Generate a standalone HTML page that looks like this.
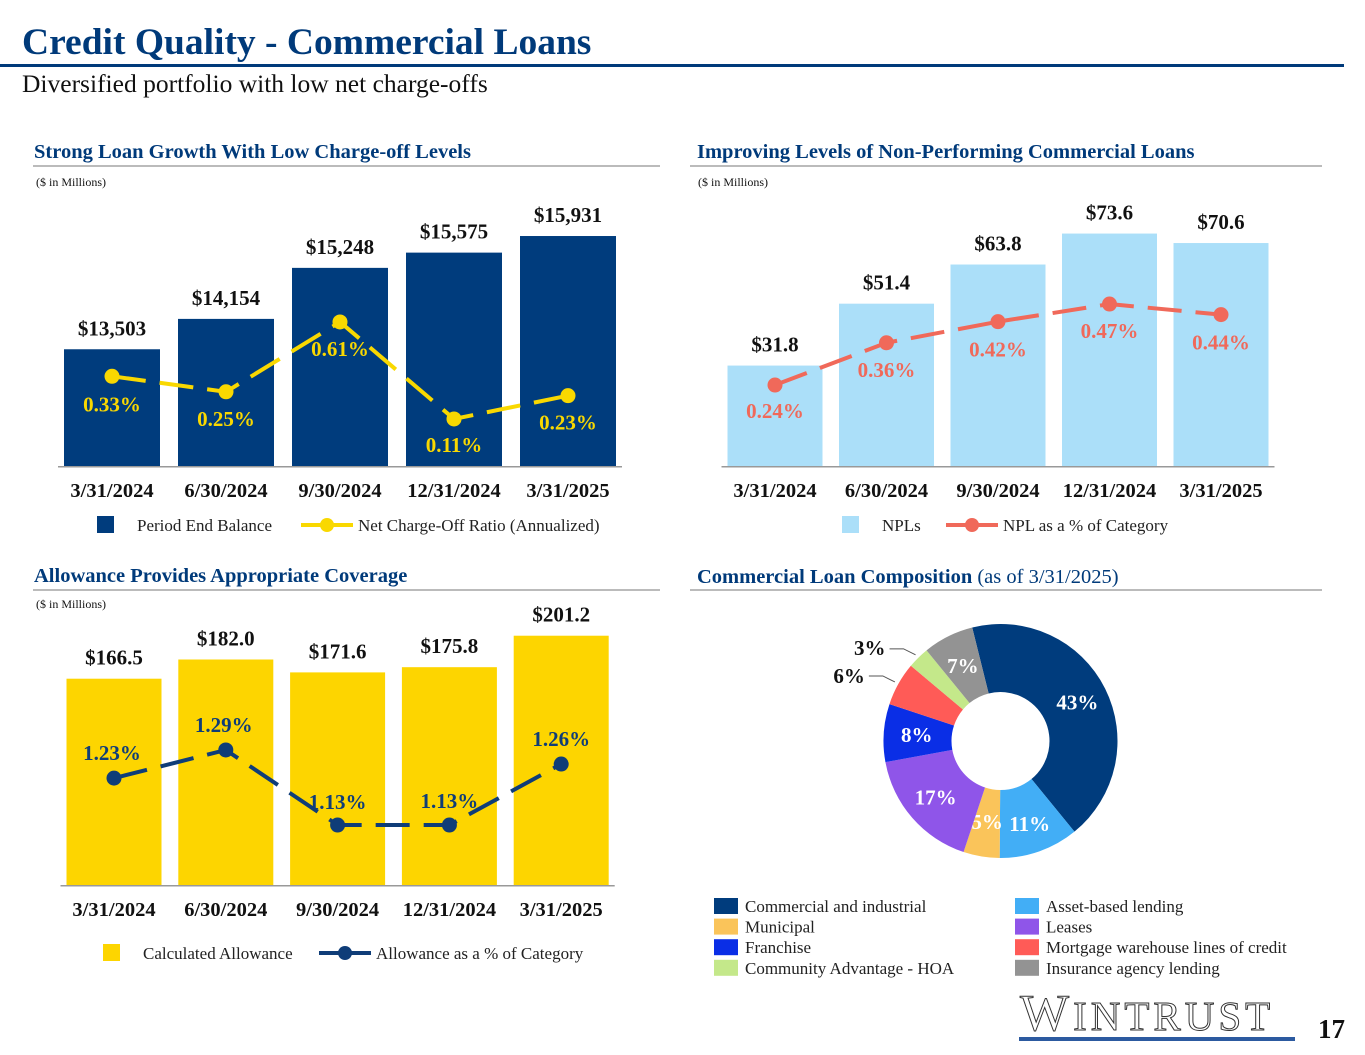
<!DOCTYPE html>
<html><head><meta charset="utf-8"><style>
body{margin:0;width:1365px;height:1055px;background:#fff;overflow:hidden;font-family:"Liberation Serif",serif;}
svg{position:absolute;left:0;top:0}
</style></head><body>
<svg id="s" width="1365" height="1055" xmlns="http://www.w3.org/2000/svg" font-family="Liberation Serif, serif">
<text x="22" y="54" font-size="37.5" font-weight="bold" fill="#003a7a">Credit Quality - Commercial Loans</text>
<rect x="0" y="64" width="1344" height="3" fill="#003a7a"/>
<text x="22" y="92" font-size="25.5" fill="#111">Diversified portfolio with low net charge-offs</text>

<text x="34" y="158" font-size="20.5" font-weight="bold" fill="#003a7a">Strong Loan Growth With Low Charge-off Levels</text>
<rect x="33" y="165" width="627" height="2" fill="#bbb"/>
<text x="36" y="186" font-size="12" fill="#111">($ in Millions)</text>

<text x="697" y="158" font-size="20.5" font-weight="bold" fill="#003a7a">Improving Levels of Non-Performing Commercial Loans</text>
<rect x="690" y="165" width="632" height="2" fill="#bbb"/>
<text x="698" y="186" font-size="12" fill="#111">($ in Millions)</text>

<text x="34" y="582" font-size="20.5" font-weight="bold" fill="#003a7a">Allowance Provides Appropriate Coverage</text>
<rect x="33" y="589" width="627" height="2" fill="#bbb"/>
<text x="36" y="608" font-size="12" fill="#111">($ in Millions)</text>

<text x="697" y="583" font-size="20.5" fill="#003a7a"><tspan font-weight="bold">Commercial Loan Composition</tspan> (as of 3/31/2025)</text>
<rect x="690" y="589" width="632" height="2" fill="#bbb"/>

<g id="c1"></g><g id="c2"></g><g id="c3"></g><g id="c4"></g>

<text x="1020" y="1030" font-size="52" fill="#fff" stroke="#333" stroke-width="1" letter-spacing="4">W<tspan font-size="41">INTRUST</tspan></text>
<rect x="1019" y="1037" width="276" height="4" fill="#2c5aa0"/>
<text x="1318" y="1038" font-size="27" font-weight="bold" fill="#111">17</text>
</svg>
<script>
const NS="http://www.w3.org/2000/svg";
function mk(p,t,a){const e=document.createElementNS(NS,t);for(const k in a)e.setAttribute(k,a[k]);p.appendChild(e);return e;}
function txt(p,x,y,s,o){const e=mk(p,'text',Object.assign({x:x,y:y,'text-anchor':'middle','font-size':21,'font-weight':'bold'},o||{}));e.textContent=s;return e;}

const dates=["3/31/2024","6/30/2024","9/30/2024","12/31/2024","3/31/2025"];
const loanBal=[13503,14154,15248,15575,15931];
const loanBalLabels=["$13,503","$14,154","$15,248","$15,575","$15,931"];
const nco=[0.33,0.25,0.61,0.11,0.23];
const npl=[31.8,51.4,63.8,73.6,70.6];
const nplPct=[0.24,0.36,0.42,0.47,0.44];
const allow=[166.5,182.0,171.6,175.8,201.2];
const allowPct=[1.23,1.29,1.13,1.13,1.26];
const compCats=["Commercial and industrial","Asset-based lending","Municipal","Leases","Franchise","Mortgage warehouse lines of credit","Community Advantage - HOA","Insurance agency lending"];
const compVals=[43,11,5,17,8,6,3,7];

function chart(g,cfg){
  const xs=i=>cfg.x0+i*cfg.dx;
  mk(g,'rect',{x:cfg.x0-cfg.bw/2-6,y:cfg.base,width:cfg.dx*4+cfg.bw+12,height:1.5,fill:'#999'});
  cfg.bars.forEach((v,i)=>{
    const top=cfg.by(v);
    const r=mk(g,'rect',{x:xs(i)-cfg.bw/2,y:top,width:cfg.bw,height:cfg.base-top,fill:cfg.barCol});
    
    
    const t=txt(g,xs(i),top-14,cfg.barLab(v,i),{fill:'#111'});
    
    
    const d=txt(g,xs(i),cfg.base+31,dates[i],{fill:'#111','font-size':20.5});
    
    
  });
  const pts=cfg.line.map((v,i)=>[xs(i),cfg.ly(v)]);
  const pl=mk(g,'polyline',{points:pts.map(p=>p.join(',')).join(' '),fill:'none',stroke:cfg.lineCol,'stroke-width':4,'stroke-dasharray':'34,14'});
  
  
  pts.forEach((p,i)=>{
    const c=mk(g,'circle',{cx:p[0],cy:p[1],r:7.5,fill:cfg.lineCol});
    
    
    const t=txt(g,p[0]+(cfg.lxoff?cfg.lxoff[i]:0),p[1]+cfg.loff[i],cfg.line[i].toFixed(2)+'%',{fill:cfg.lineCol});
    
    
  });
  const L=cfg.leg;
  const lr=mk(g,'rect',{x:L.x,y:L.y-9,width:17,height:17,fill:cfg.barCol});
  
  
  const l1=txt(g,L.x+40,L.y+6,L.a,{'text-anchor':'start','font-weight':'normal','font-size':17,fill:'#222'});
  
  
  const ll=mk(g,'line',{x1:L.x2,y1:L.y,x2:L.x2+52,y2:L.y,stroke:cfg.lineCol,'stroke-width':4});
  
  
  mk(g,'circle',{cx:L.x2+26,cy:L.y,r:7,fill:cfg.lineCol});
  const l2=txt(g,L.x2+57,L.y+6,L.b,{'text-anchor':'start','font-weight':'normal','font-size':17,fill:'#222'});
  
  
}

chart(document.getElementById('c1'),{x0:112,dx:114,bw:96,base:466,bars:loanBal,by:v=>466-(v-11000)*0.04664,
 barCol:'#003c7d',barLab:(v,i)=>loanBalLabels[i],line:nco,ly:v=>440.3-v*194,lineCol:'#f9d800',loff:[35,34,34,33,34],
 leg:{x:97,y:525,a:'Period End Balance',x2:301,b:'Net Charge-Off Ratio (Annualized)'}});
chart(document.getElementById('c2'),{x0:775,dx:111.5,bw:95,base:466,bars:npl,by:v=>466-v*3.158,
 barCol:'#abdff9',barLab:v=>'$'+v.toFixed(1),line:nplPct,ly:v=>469.5-v*352,lineCol:'#f0695a',loff:[33,34,35,34,35],
 leg:{x:842,y:525,a:'NPLs',x2:946,b:'NPL as a % of Category'}});
chart(document.getElementById('c3'),{x0:114,dx:111.8,bw:95,base:885,bars:allow,by:v=>885-v*1.239,
 barCol:'#fdd500',barLab:v=>'$'+v.toFixed(1),line:allowPct,ly:v=>1355-v*469,lineCol:'#0f3d78',loff:[-18,-18,-16,-17,-18],lxoff:[-2,-2,0,0,0],
 leg:{x:103,y:953,a:'Calculated Allowance',x2:319,b:'Allowance as a % of Category'}});

(function(){
  const g=document.getElementById('c4');
  const cols=['#003c7d','#42aef6','#fac45a','#8f55e9','#0a2ee6','#ff5b57','#c4e88a','#939393'];
  const cx=1000.5,cy=741,R=117,r=49;const tot=compVals.reduce((a,b)=>a+b,0);
  let a=-14*Math.PI/180;
  const labR=[86,88,82,86,84,0,0,84];
  compVals.forEach((v,i)=>{
    const a2=a+v/tot*2*Math.PI;
    const P=(rad,an)=>[cx+rad*Math.sin(an),cy-rad*Math.cos(an)];
    const p1=P(R,a),p2=P(R,a2),p3=P(r,a2),p4=P(r,a);const lg=(a2-a)>Math.PI?1:0;
    const s=mk(g,'path',{d:`M${p1}A${R},${R} 0 ${lg} 1 ${p2}L${p3}A${r},${r} 0 ${lg} 0 ${p4}Z`,fill:cols[i]});
    
    
    const m=(a+a2)/2;
    if(labR[i]){const q=P(labR[i],m);const t=txt(g,q[0],q[1]+7,v+'%',{fill:'#fff'});
      
      }
    else{const q=P(R+4,m);const ex=q[0]-26;const t=txt(g,ex-4,q[1]-i+6,v+'%',{fill:'#111','text-anchor':'end'});
      
      
      const ln=mk(g,'polyline',{points:`${q[0]},${q[1]} ${ex+14},${q[1]-6} ${ex},${q[1]-6}`,fill:'none',stroke:'#555','stroke-width':1});
      }
    a=a2;
  });
  compCats.forEach((c,i)=>{
    const col=i%2,row=Math.floor(i/2);const x=col?1015:714,y=906+row*20.6;
    const sw=mk(g,'rect',{x:x,y:y-8,width:24,height:16,fill:cols[i]});
    
    
    const t=txt(g,x+31,y+6,c,{'text-anchor':'start','font-weight':'normal','font-size':17,fill:'#222'});
    
    
  });
})();
</script>
</body></html>
